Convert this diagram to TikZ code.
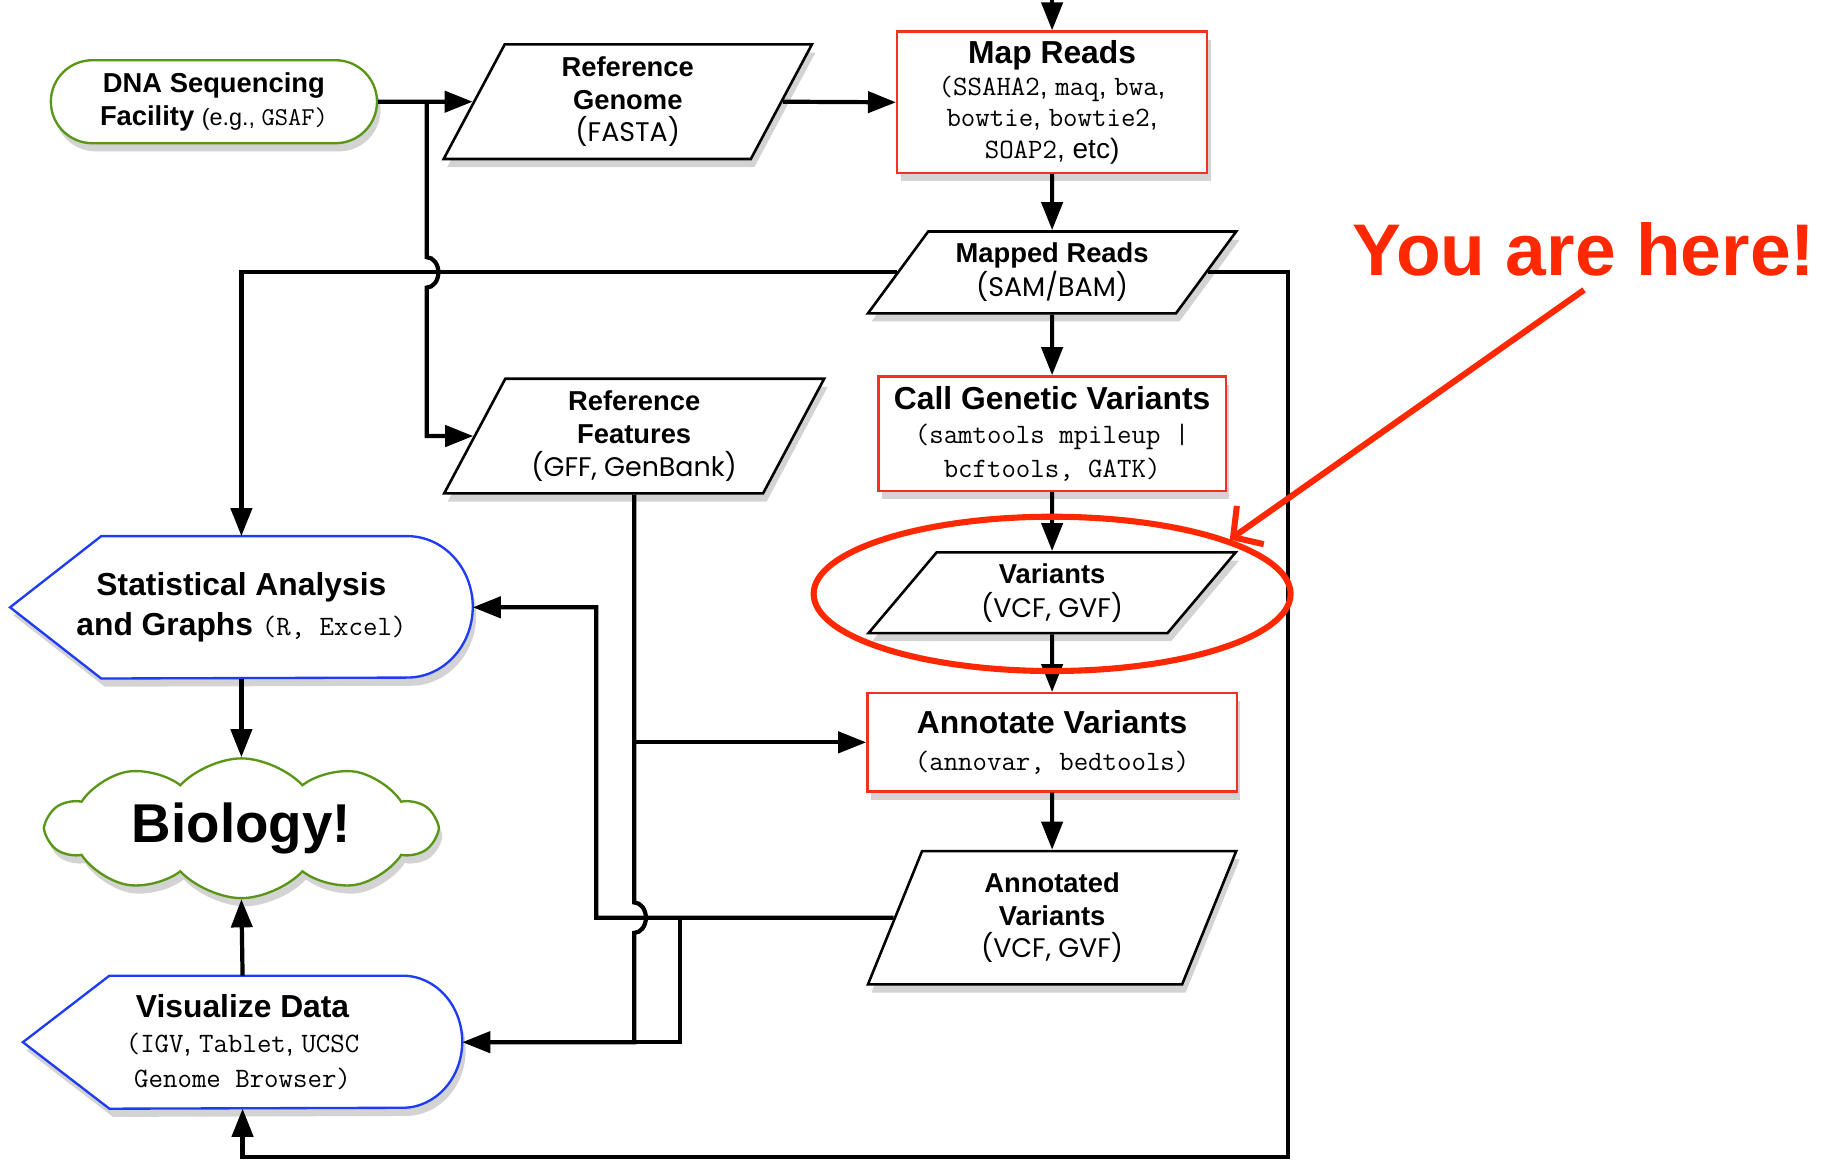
\documentclass[tikz,border=0pt]{standalone}
\usepackage{fontspec}
\setmainfont{Liberation Sans}
\newfontfamily\fmtfont{Poppins}
\usetikzlibrary{arrows.meta, positioning, shapes.geometric, shapes.symbols, shadows, backgrounds}
\definecolor{procred}{HTML}{F0321E}
\definecolor{termgreen}{HTML}{5A9616}
\definecolor{dispblue}{HTML}{1E3CF5}
\definecolor{herered}{HTML}{FF2800}
\newcommand{\hdfont}{\fontsize{13.6}{15}\selectfont\bfseries}
\newcommand{\fmtline}{\fmtfont\mdseries\fontsize{11.5}{14}\selectfont}
\newcommand{\codefont}{\ttfamily\mdseries\fontsize{12}{13.5}\selectfont}
\tikzset{
  n/.style={align=center, font=\fontsize{11.7}{14}\selectfont\bfseries, inner sep=2pt},
  shade/.style={drop shadow={shadow xshift=1.5pt, shadow yshift=-3.5pt, opacity=0.35}},
  proc/.style={n, rectangle, draw=procred, line width=1pt, fill=white, shade},
  io/.style={n, trapezium, trapezium stretches body, draw=black, line width=1.1pt, fill=white, shade},
  term/.style={n, rectangle, rounded corners=17.75pt, draw=termgreen, line width=1pt, fill=white, shade},
  disp/.style={n, rectangle, inner sep=0pt},
  displine/.style={draw=dispblue, line width=1pt, fill=white, shade},
  cloudn/.style={n, cloud, cloud puffs=10, cloud puff arc=95, aspect=3.2, draw=termgreen, line width=1pt, fill=white, shade},
  a/.style={-{Triangle[length=12pt, width=9pt]}, line width=1.8pt},
  ln/.style={line width=1.8pt},
}
\begin{document}
\begin{tikzpicture}[x=0.5pt, y=-0.5pt]
\useasboundingbox (0,0) rectangle (1568,993);
% inputs and pipeline
\node[term, minimum width=139.5pt, minimum height=35.5pt] (dna) at (183,87) {DNA Sequencing\\Facility {\mdseries\fontsize{10}{12}\selectfont(e.g., \ttfamily\fontsize{11}{12}\selectfont GSAF)}};
\node[io, trapezium left angle=58.5, trapezium right angle=121.5, minimum width=157.5pt, minimum height=49pt] (refgen) at (537,87) {Reference\\Genome\\\fmtline (FASTA)};
\node[proc, minimum width=132.5pt, minimum height=60.5pt, font=\fontsize{11}{13.5}\selectfont] (map) at (900,87.5) {{\hdfont Map Reads}\\\codefont(SSAHA2{\rmfamily, }maq{\rmfamily, }bwa{\rmfamily,}\\\codefont bowtie{\rmfamily, }bowtie2{\rmfamily,}\\\codefont SOAP2{\rmfamily, etc)}};
\node[io, trapezium left angle=48.5, trapezium right angle=131.5, minimum width=157.5pt, minimum height=35pt, font=\fontsize{11.7}{14.5}\selectfont\bfseries] (mapped) at (900,233) {Mapped Reads\\\fmtline (SAM/BAM)};
\node[proc, minimum width=148.5pt, minimum height=49pt, font=\fontsize{11}{14.5}\selectfont] (call) at (900,371) {{\hdfont Call Genetic Variants}\\\codefont (samtools mpileup |\\\codefont bcftools, GATK)};
\node[io, trapezium left angle=45, trapezium right angle=135, minimum width=157pt, minimum height=34.5pt, font=\fontsize{11.7}{14.5}\selectfont\bfseries] (var) at (900,507) {Variants\\\fmtline (VCF, GVF)};
\node[proc, minimum width=158pt, minimum height=42pt, font=\fontsize{11}{15.5}\selectfont] (annot) at (900,635) {{\hdfont Annotate Variants}\\\codefont (annovar, bedtools)};
\node[io, trapezium left angle=61.5, trapezium right angle=118.5, minimum width=157.5pt, minimum height=57pt] (annvar) at (900,785) {Annotated\\Variants\\\fmtline (VCF, GVF)};
\node[io, trapezium left angle=58.5, trapezium right angle=121.5, minimum width=162.5pt, minimum height=49pt] (reffeat) at (542.5,373) {Reference\\Features\\\fmtline (GFF, GenBank)};
% outputs
\node[disp, minimum width=197.5pt, minimum height=60.5pt, font=\fontsize{13.6}{17}\selectfont\bfseries] (stat) at (206.5,519.5) {Statistical Analysis\\and Graphs {\codefont(R, Excel)}};
\node[cloudn, minimum width=166pt, minimum height=42pt, font=\fontsize{23.4}{28}\selectfont\bfseries] (bio) at (206.5,708.5) {Biology!};
\node[disp, minimum width=187.5pt, minimum height=56.5pt, font=\fontsize{11}{15}\selectfont] (vis) at (207.5,891.5) {{\hdfont Visualize Data}\\\codefont (IGV{\rmfamily, }Tablet{\rmfamily, }UCSC\\\codefont Genome Browser)};
\begin{scope}[on background layer]
\draw[displine] (stat.west) -- ([xshift=39pt]stat.north west) -- ([xshift=-28pt]stat.north east) arc[start angle=90, end angle=-90, x radius=28pt, y radius=30.25pt] -- ([xshift=39pt]stat.south west) -- cycle;
\draw[displine] (vis.west) -- ([xshift=37pt]vis.north west) -- ([xshift=-25.5pt]vis.north east) arc[start angle=90, end angle=-90, x radius=25.5pt, y radius=28.25pt] -- ([xshift=37pt]vis.south west) -- cycle;
\end{scope}
% connectors
\coordinate (feed) at (900,0);
\coordinate (split1) at (365,87);
\coordinate (split2) at (582,785);
\coordinate (back) at (510,785);
\coordinate (rimcorner) at (1102,990);
\draw[a] (feed) -- (map.north);
\draw[a] (dna.east) -- (refgen.west);
\draw[a] (refgen.east) -- (map.west);
\draw[a] (split1) -- ([yshift=6.5pt]split1 |- mapped.west) arc[start angle=90, end angle=-90, x radius=5pt, y radius=6.5pt] |- (reffeat.west);
\draw[a] (map.south) -- (mapped.north);
\draw[a] (mapped.south) -- (call.north);
\draw[a] (call.south) -- (var.north);
\draw[a] (var.south) -- (annot.north);
\draw[a] (annot.south) -- (annvar.north);
\draw[a] (mapped.west) -| (stat.north);
\draw[a] (mapped.east) -| (rimcorner) -| (vis.south);
\draw[a] (reffeat.south) -- ([yshift=6.5pt]reffeat.south |- annvar.west) arc[start angle=90, end angle=-90, x radius=5pt, y radius=6.5pt] |- (vis.east);
\draw[a] (reffeat.south |- annot.west) -- (annot.west);
\draw[a] (annvar.west) -- (back) |- (stat.east);
\draw[ln] (split2) |- (reffeat.south |- vis.east);
\draw[a] (stat.south) -- (bio.north);
\draw[a] (vis.north) -- (bio.south);
% you are here
\node[draw=herered, line width=2.6pt, ellipse, minimum width=204pt, minimum height=66pt, inner sep=0pt] (here) at (900,508) {};
\node[text=herered, font=\fontsize{31.3}{36}\selectfont\bfseries, inner sep=0pt, outer sep=6pt] (youhere) at (1355,213) {You are here!};
\draw[herered, line width=2.6pt, -{Straight Barb[length=9pt, width=20pt]}] (youhere.south) -- (here.17);
\end{tikzpicture}
\end{document}
